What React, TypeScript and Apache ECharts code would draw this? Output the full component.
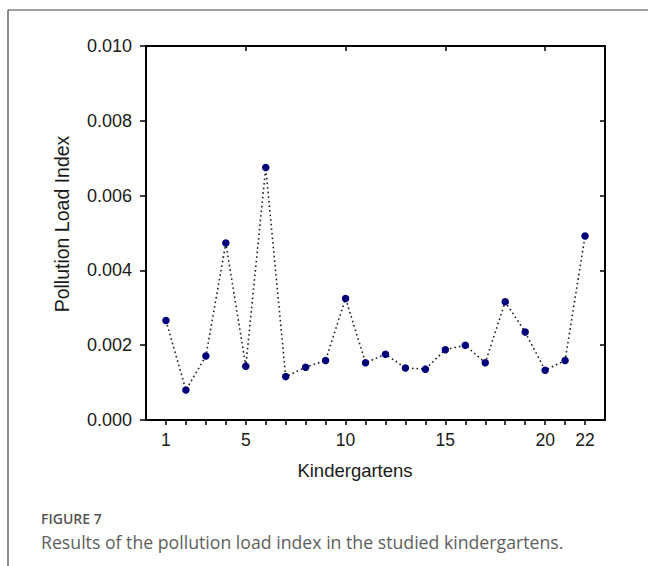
import React, { useEffect, useRef } from "react";
import * as echarts from "echarts";

const kindergartens = [1, 2, 3, 4, 5, 6, 7, 8, 9, 10, 11, 12, 13, 14, 15, 16, 17, 18, 19, 20, 21, 22];
const pliValues = [
  0.00266, 0.0008, 0.00171, 0.00473, 0.00144, 0.00675, 0.00116, 0.00141, 0.00159, 0.00325, 0.00153,
  0.00176, 0.00139, 0.00136, 0.00188, 0.002, 0.00153, 0.00316, 0.00235, 0.00133, 0.00159, 0.00492,
];
const xTickLabels = [1, 5, 10, 15, 20, 22];
const xTopTicks = [5, 10, 15, 20];
const xTitle = "Kindergartens";
const yTitle = "Pollution Load Index";
const captionHead = "FIGURE 7";
const captionText = "Results of the pollution load index in the studied kindergartens.";

export default function App() {
  const ref = useRef<HTMLDivElement>(null);
  useEffect(() => {
    if (!ref.current) return;
    const chart = echarts.init(ref.current, undefined, { renderer: "svg" });
    const axisColor = "#000000";
    const font = "Liberation Sans";
    chart.setOption({
      animation: false,
      backgroundColor: "#ffffff",
      grid: { left: 146, right: 43, top: 46, bottom: 146, containLabel: false },
      xAxis: [
        {
          type: "value",
          min: 0,
          max: 23,
          interval: 1,
          position: "bottom",
          splitLine: { show: false },
          axisLine: { show: true, onZero: false, lineStyle: { color: axisColor, width: 2 } },
          axisTick: { show: true, inside: false, length: 5, customValues: kindergartens, lineStyle: { color: axisColor, width: 1.5 } },
          axisLabel: {
            show: true,
            margin: 11,
            color: "#1a1a1a",
            fontFamily: font,
            fontSize: 17.5,
            customValues: xTickLabels,
          },
        },
        {
          type: "value",
          min: 0,
          max: 23,
          interval: 1,
          position: "top",
          splitLine: { show: false },
          axisLine: { show: true, onZero: false, lineStyle: { color: axisColor, width: 2 } },
          axisTick: { show: true, inside: true, length: 5, customValues: xTopTicks, lineStyle: { color: axisColor, width: 1.5 } },
          axisLabel: { show: false },
        },
      ],
      yAxis: [
        {
          type: "value",
          min: 0,
          max: 0.01,
          interval: 0.002,
          position: "left",
          splitLine: { show: false },
          axisLine: { show: true, onZero: false, lineStyle: { color: axisColor, width: 2 } },
          axisTick: { show: true, inside: false, length: 6, lineStyle: { color: axisColor, width: 1.5 } },
          axisLabel: {
            margin: 14,
            color: "#1a1a1a",
            fontFamily: font,
            fontSize: 18,
            formatter: (v: number) => v.toFixed(3),
          },
        },
        {
          type: "value",
          min: 0,
          max: 0.01,
          interval: 0.002,
          position: "right",
          splitLine: { show: false },
          axisLine: { show: true, onZero: false, lineStyle: { color: axisColor, width: 2 } },
          axisTick: { show: true, inside: true, length: 5, lineStyle: { color: axisColor, width: 1.5 } },
          axisLabel: { show: false },
        },
      ],
      series: [
        {
          type: "line",
          xAxisIndex: 0,
          yAxisIndex: 0,
          data: kindergartens.map((k, i) => [k, pliValues[i]]),
          symbol: "circle",
          symbolSize: 7.5,
          itemStyle: { color: "#00007a" },
          lineStyle: { color: "#222222", width: 1.6, type: [1.6, 3] },
        },
      ],
      graphic: [
        {
          type: "line",
          shape: { x1: 8, y1: 10, x2: 648, y2: 10 },
          style: { stroke: "#444", lineWidth: 1.2 },
        },
        {
          type: "line",
          shape: { x1: 8, y1: 10, x2: 8, y2: 566 },
          style: { stroke: "#444", lineWidth: 1.2 },
        },
        {
          type: "text",
          x: 355,
          y: 470,
          style: {
            text: xTitle,
            fontFamily: font,
            fontSize: 18.5,
            fill: "#1a1a1a",
            textAlign: "center",
            textVerticalAlign: "middle",
          },
        },
        {
          type: "text",
          x: 62,
          y: 224,
          rotation: Math.PI / 2,
          style: {
            text: yTitle,
            fontFamily: font,
            fontSize: 19.5,
            fill: "#1a1a1a",
            textAlign: "center",
            textVerticalAlign: "middle",
          },
        },
        {
          type: "text",
          x: 41,
          y: 518,
          style: {
            text: captionHead,
            fontFamily: "Open Sans",
            fontWeight: 600,
            fontSize: 14,
            fill: "#555555",
            textAlign: "left",
            textVerticalAlign: "middle",
          },
        },
        {
          type: "text",
          x: 41,
          y: 542,
          style: {
            text: captionText,
            fontFamily: "Open Sans",
            fontSize: 17.7,
            fill: "#606060",
            textAlign: "left",
            textVerticalAlign: "middle",
          },
        },
      ],
    });
    return () => chart.dispose();
  }, []);
  return (
    <div
      ref={ref}
      style={{ position: "fixed", left: 0, top: 0, width: 648, height: 566, background: "#fff" }}
    />
  );
}
